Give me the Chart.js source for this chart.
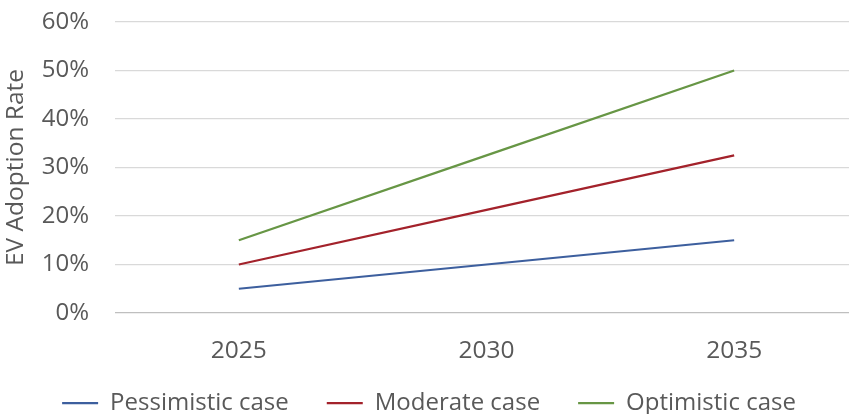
<!DOCTYPE html>
<html>
<head>
<meta charset="utf-8">
<script src="https://cdn.jsdelivr.net/npm/chart.js@4.4.1/dist/chart.umd.min.js"></script>
<style>
  html, body { margin: 0; padding: 0; background: #fff; overflow: hidden; }
  #wrap { width: 858px; height: 414px; position: relative; }
</style>
</head>
<body>
<div id="wrap"><canvas id="chart"></canvas></div>
<script>
// datos (en %)
const years = ['2025', '2030', '2035'];
const pesimista = [5, 10, 15];
const moderado = [10, 21.25, 32.5];
const optimista = [15, 32.5, 50];
const yTicks = [0, 10, 20, 30, 40, 50, 60];

const GRIS = '#595959';
const FUENTE = "'Open Sans', 'Noto Sans', sans-serif";

function serie(label, data, color) {
  return {
    label, data,
    borderColor: color,
    backgroundColor: color,
    borderWidth: 2.25,
    pointRadius: 0,
    pointStyle: 'line',
    tension: 0,
    fill: false
  };
}

new Chart(document.getElementById('chart'), {
  type: 'line',
  data: {
    labels: years,
    datasets: [
      serie('Pessimistic case', pesimista, '#3d5f9e'),
      serie('Moderate case', moderado, '#a3222b'),
      serie('Optimistic case', optimista, '#679645')
    ]
  },
  options: {
    responsive: true,
    maintainAspectRatio: false,
    animation: false,
    layout: { padding: { top: 22, left: 0, right: 0, bottom: 0 } },
    plugins: {
      tooltip: { enabled: false },
      legend: {
        position: 'bottom',
        maxHeight: 61,
        labels: {
          usePointStyle: true,
          pointStyle: 'line',
          pointStyleWidth: 36,
          padding: 38,
          color: GRIS,
          font: { family: FUENTE, size: 24 }
        }
      }
    },
    scales: {
      x: {
        offset: true,
        grid: { display: false },
        border: { display: false },
        afterFit: s => {
          s.height = 40;
          // las etiquetas sobresalen de la caja; sin recorte
          s._computeLabelArea = () => undefined;
        },
        ticks: { color: GRIS, padding: 15, font: { family: FUENTE, size: 24.5 } }
      },
      y: {
        min: 0, max: 60,
        afterBuildTicks: s => { s.ticks = yTicks.map(v => ({ value: v })); },
        afterFit: s => { s.width = 115; },
        grid: {
          drawTicks: true,
          tickLength: 26,
          tickColor: 'rgba(0,0,0,0)',
          lineWidth: 1.25,
          color: c => c.tick && c.tick.value === 0 ? '#bfbfbf' : '#d9d9d9'
        },
        border: { display: false },
        title: {
          display: true,
          text: 'EV Adoption Rate',
          color: GRIS,
          font: { family: FUENTE, size: 24.5 },
          padding: { top: 1, bottom: 0 }
        },
        ticks: {
          color: GRIS,
          padding: 0,
          font: { family: FUENTE, size: 24 },
          callback: v => v + '%'
        }
      }
    }
  }
});
</script>
</body>
</html>
